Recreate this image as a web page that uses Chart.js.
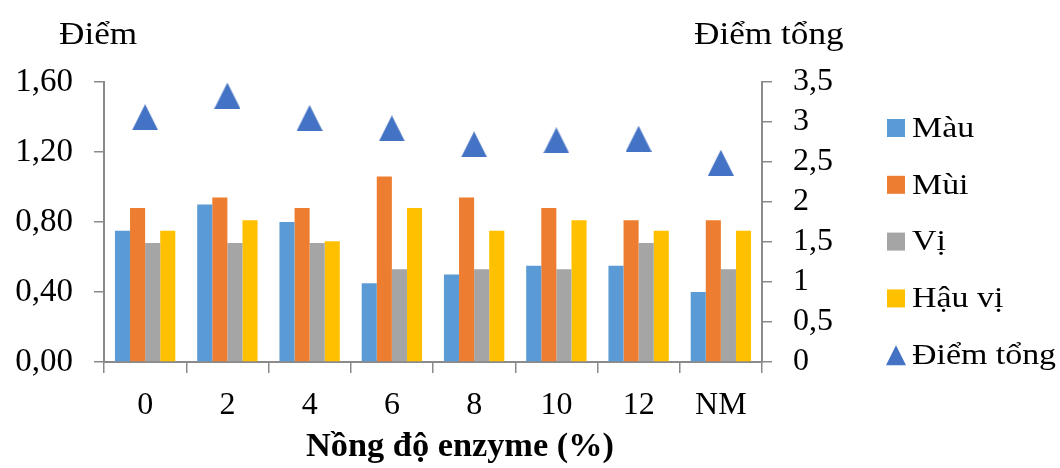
<!DOCTYPE html>
<html>
<head>
<meta charset="utf-8">
<script src="https://cdn.jsdelivr.net/npm/chart.js@4/dist/chart.umd.min.js"></script>
<style>
  html, body { margin: 0; padding: 0; background: #ffffff; }
  #wrap { width: 1060px; height: 468px; }
</style>
</head>
<body>
<div id="wrap"><canvas id="c" width="1060" height="468"></canvas></div>
<script>
// Enzyme concentration (%) and sensory scores
const categories = ['0', '2', '4', '6', '8', '10', '12', 'NM'];
const mau      = [0.75, 0.90, 0.80, 0.45, 0.50, 0.55, 0.55, 0.40];
const mui      = [0.88, 0.94, 0.88, 1.06, 0.94, 0.88, 0.81, 0.81];
const vi       = [0.68, 0.68, 0.68, 0.53, 0.53, 0.53, 0.68, 0.53];
const hauVi    = [0.75, 0.81, 0.69, 0.88, 0.75, 0.81, 0.75, 0.75];
const diemTong = [3.06, 3.33, 3.05, 2.92, 2.72, 2.77, 2.79, 2.49];

const leftTicks  = [0, 0.4, 0.8, 1.2, 1.6];
const rightTicks = [0, 0.5, 1, 1.5, 2, 2.5, 3, 3.5];

const SERIF = "'Liberation Serif', 'Times New Roman', serif";
const AXIS_GRAY = '#8a8a8a';
const TRI_BLUE = '#4472C4';

// Triangle marker sprite for the total score series
function makeTriangle(w, h, color) {
  const cv = document.createElement('canvas');
  cv.width = w; cv.height = h;
  const g = cv.getContext('2d');
  g.fillStyle = color;
  g.beginPath();
  g.moveTo(0, h);
  g.lineTo(w / 2, 0);
  g.lineTo(w, h);
  g.closePath();
  g.fill();
  return cv;
}
const triMarker = makeTriangle(26, 26, TRI_BLUE);

// Text drawn with a slight horizontal stretch (wide Times-style lettering)
function wideText(ctx, text, x, y, sx) {
  ctx.save();
  ctx.translate(x, y);
  ctx.scale(sx, 1);
  ctx.fillText(text, 0, 0);
  ctx.restore();
}

// Axis titles and the right-hand legend, painted on the chart canvas
const decorations = {
  id: 'decorations',
  afterDraw(chart, args, opts) {
    const ctx = chart.ctx;
    ctx.save();
    ctx.fillStyle = '#000';
    ctx.textBaseline = 'alphabetic';
    ctx.textAlign = 'left';
    ctx.font = `32px ${SERIF}`;
    wideText(ctx, 'Điểm', 59, 44, 1.1);
    wideText(ctx, 'Điểm tổng', 694, 44, 1.1);

    ctx.font = `bold 33px ${SERIF}`;
    ctx.textAlign = 'center';
    wideText(ctx, 'Nồng độ enzyme (%)', 460, 456, 1.04);

    // legend
    ctx.font = `30px ${SERIF}`;
    ctx.textAlign = 'left';
    ctx.textBaseline = 'middle';
    const lx = opts.x, box = opts.box;
    chart.data.datasets.forEach((ds, i) => {
      const cy = opts.y + i * opts.gap;
      if (ds.type === 'line') {
        ctx.fillStyle = TRI_BLUE;
        ctx.beginPath();
        ctx.moveTo(lx - 1, cy + 10);
        ctx.lineTo(lx + box / 2, cy - 10);
        ctx.lineTo(lx + box + 1, cy + 10);
        ctx.closePath();
        ctx.fill();
      } else {
        ctx.fillStyle = ds.backgroundColor;
        ctx.fillRect(lx, cy - box / 2, box, box);
      }
      ctx.fillStyle = '#000';
      wideText(ctx, ds.label, lx + box + 7, cy + 1, 1.13);
    });
    ctx.restore();
  }
};

const commaFmt = (v, d) => Number(v).toFixed(d).replace('.', ',');

new Chart(document.getElementById('c'), {
  data: {
    labels: categories,
    datasets: [
      { type: 'bar', label: 'Màu',     data: mau,   backgroundColor: '#5B9BD5', yAxisID: 'y', order: 1 },
      { type: 'bar', label: 'Mùi',     data: mui,   backgroundColor: '#ED7D31', yAxisID: 'y', order: 1 },
      { type: 'bar', label: 'Vị',      data: vi,    backgroundColor: '#A5A5A5', yAxisID: 'y', order: 1 },
      { type: 'bar', label: 'Hậu vị',  data: hauVi, backgroundColor: '#FFC000', yAxisID: 'y', order: 1 },
      { type: 'line', label: 'Điểm tổng', data: diemTong, yAxisID: 'y1', order: 0,
        showLine: false, pointStyle: triMarker, pointRadius: 13, pointHoverRadius: 13,
        backgroundColor: TRI_BLUE, borderColor: TRI_BLUE }
    ]
  },
  options: {
    responsive: false,
    animation: false,
    devicePixelRatio: 1,
    layout: { padding: { left: 0, right: 0, top: 82, bottom: 0 } },
    datasets: {
      bar: { categoryPercentage: 0.734, barPercentage: 1.0 }
    },
    plugins: {
      legend: { display: false },
      tooltip: { enabled: false },
      decorations: { x: 887, y: 128, gap: 56.8, box: 18 }
    },
    scales: {
      x: {
        offset: true,
        grid: { display: true, drawOnChartArea: false, drawTicks: true, tickLength: 11,
                color: AXIS_GRAY, lineWidth: 1.5, offset: true },
        border: { display: true, color: AXIS_GRAY, width: 2 },
        ticks: { color: '#000', font: { family: SERIF, size: 32 }, padding: 13,
                 maxRotation: 0, autoSkip: false },
        afterFit(s) { s.height = 106; }
      },
      y: {
        position: 'left',
        min: 0, max: 1.6,
        afterBuildTicks(s) { s.ticks = leftTicks.map(v => ({ value: v })); },
        grid: { display: true, drawOnChartArea: false, drawTicks: true, tickLength: 10,
                color: AXIS_GRAY, lineWidth: 1.5 },
        border: { display: true, color: AXIS_GRAY, width: 2 },
        ticks: { color: '#000', font: { family: SERIF, size: 33 }, padding: 21, autoSkip: false,
                 callback: v => commaFmt(v, 2) },
        afterFit(s) { s.width = 104; }
      },
      y1: {
        position: 'right',
        min: 0, max: 3.5,
        afterBuildTicks(s) { s.ticks = rightTicks.map(v => ({ value: v })); },
        grid: { display: true, drawOnChartArea: false, drawTicks: true, tickLength: 10,
                color: AXIS_GRAY, lineWidth: 1.5 },
        border: { display: true, color: AXIS_GRAY, width: 2 },
        ticks: { color: '#000', font: { family: SERIF, size: 32 }, padding: 21, autoSkip: false,
                 callback: v => (Number.isInteger(v) ? String(v) : commaFmt(v, 1)) },
        afterFit(s) { s.width = 298; }
      }
    }
  },
  plugins: [decorations]
});
</script>
</body>
</html>
